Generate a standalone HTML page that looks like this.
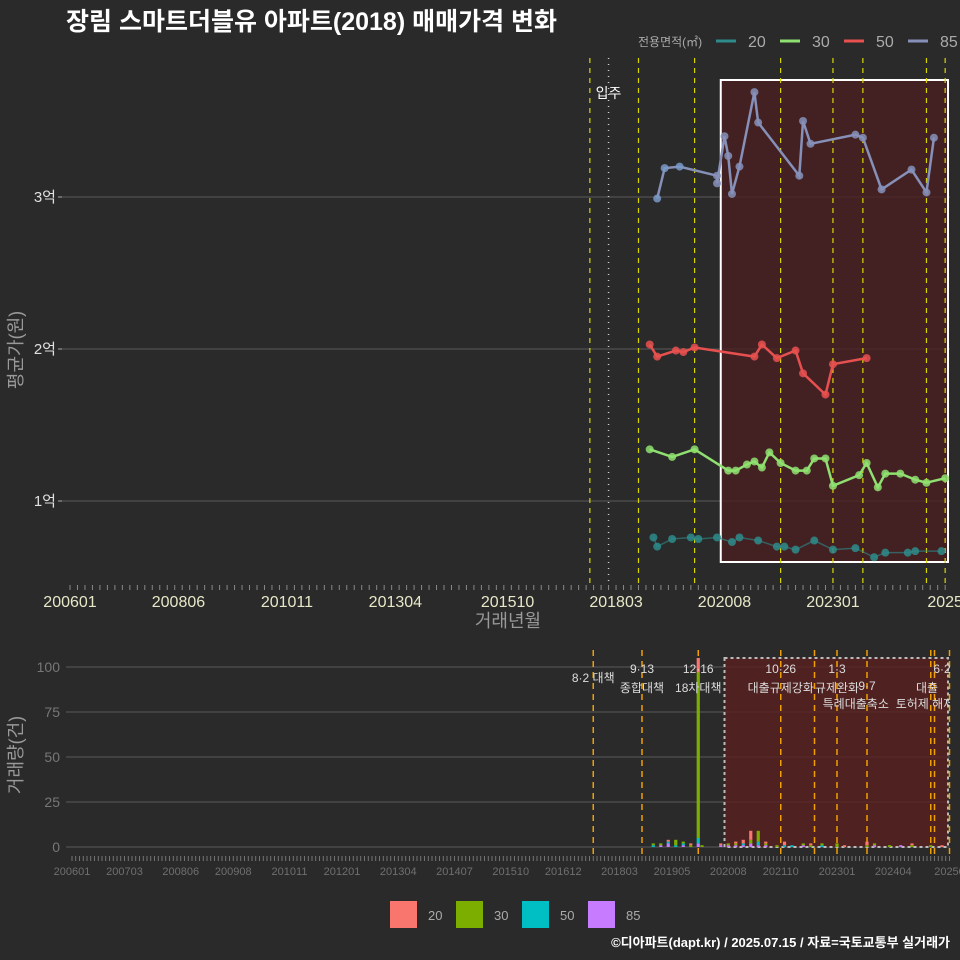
<!DOCTYPE html>
<html><head><meta charset="utf-8">
<style>
html,body{margin:0;padding:0;background:#2a2a2a;}
svg{display:block;font-family:"Liberation Sans","Noto Sans CJK KR",sans-serif;}
</style></head>
<body>
<svg id="c" width="960" height="960" viewBox="0 0 960 960" xmlns="http://www.w3.org/2000/svg">
<defs><clipPath id="annClip"><rect x="0" y="640" width="950" height="220"/></clipPath></defs>
<rect x="0" y="0" width="960" height="960" fill="#2a2a2a"/>
<text x="66" y="30" fill="#ffffff" font-size="25" font-weight="bold">장림 스마트더블유 아파트(2018) 매매가격 변화</text>
<g id="legendTop">
<text x="638" y="46" fill="#aaaaaa" font-size="12">전용면적(㎡)</text>
</g>
<g id="topPanel"></g>
<g id="botPanel"></g>
<g id="annPanel" clip-path="url(#annClip)"></g>
<text x="508" y="627" fill="#999" font-size="18" text-anchor="middle">거래년월</text>
<text transform="translate(22,350) rotate(-90)" fill="#999" font-size="18" text-anchor="middle">평균가(원)</text>
<text transform="translate(22,755) rotate(-90)" fill="#999" font-size="18" text-anchor="middle">거래량(건)</text>
<text x="950" y="947" fill="#ffffff" font-size="13" font-weight="bold" text-anchor="end">©디아파트(dapt.kr) / 2025.07.15 / 자료=국토교통부 실거래가</text>
</svg>
<script>
// ---- data ----
const sizes = ["20","30","50","85"];
const lineColors = ["#2e8b8b","#8fe070","#e85050","#8690b8"];
const barColors = ["#F8766D","#7CAE00","#00BFC4","#C77CFF"];
const d85 = ["201902","201904","201908","202006","202006","202008","202009","202010","202012","202104","202105","202204","202205","202207","202307","202309","202402","202410","202502","202504"];
const v85 = [2.99,3.19,3.20,3.14,3.09,3.40,3.27,3.02,3.20,3.69,3.49,3.14,3.50,3.35,3.41,3.39,3.05,3.18,3.03,3.39];
const d50 = ["201812","201902","201907","201909","201912","202104","202106","202110","202203","202205","202211","202301","202310"];
const v50 = [2.03,1.95,1.99,1.98,2.01,1.95,2.03,1.94,1.99,1.84,1.70,1.90,1.94];
const d30 = ["201812","201906","201912","202009","202011","202102","202104","202106","202108","202111","202203","202206","202208","202211","202301","202308","202310","202401","202403","202407","202411","202502","202507"];
const v30 = [1.34,1.29,1.34,1.20,1.20,1.24,1.26,1.22,1.32,1.25,1.20,1.20,1.28,1.28,1.10,1.17,1.25,1.09,1.18,1.18,1.14,1.12,1.15];
const d20 = ["201901","201902","201906","201911","202001","202006","202010","202012","202105","202110","202112","202203","202208","202301","202307","202312","202403","202409","202411","202506"];
const v20 = [0.76,0.70,0.75,0.76,0.75,0.76,0.73,0.76,0.74,0.70,0.70,0.68,0.74,0.68,0.69,0.63,0.66,0.66,0.67,0.67];
const topPolicyDates = ["201708","201809","201912","202111","202301","202309","202502","202507"];
const botPolicyDates = ["201708","201809","201912","202110","202207","202301","202309","202502","202503","202507"];
const moveInDate = "201801";
const topTicks = ["200601","200806","201011","201304","201510","201803","202008","202301","202507"];
const topTickLabels = ["200601","200806","201011","201304","201510","201803","202008","202301","2025"];
const priceTicks = [1,2,3];
const priceTickLabels = ["1억","2억","3억"];
const volMonths = ["201812","201902","201904","201906","201908","201910","201912","202001","202006","202008","202010","202012","202102","202104","202106","202109","202111","202201","202204","202206","202209","202301","202303","202309","202311","202403","202406","202409","202502","202505"];
const vol20 = [0,0,1,0,0,1,8,0,1,0,1,2,5,0,1,0,2,0,0,1,0,0,1,2,0,0,0,1,0,1];
const vol30 = [1,1,0,3,1,1,92,1,0,1,1,0,2,6,1,1,0,0,1,1,1,2,0,1,1,1,0,1,1,0];
const vol50 = [1,0,1,1,1,0,3,0,0,0,0,1,0,2,0,0,1,1,0,0,1,0,0,0,0,0,0,0,0,0];
const vol85 = [0,1,2,0,1,0,2,0,1,1,1,1,2,1,1,0,0,0,1,0,0,0,0,0,1,0,1,0,0,0];
const volTicks = [0,25,50,75,100];
const botTicks = ["200601","200703","200806","200908","201011","201201","201304","201407","201510","201612","201803","201905","202008","202110","202301","202404","202507"];
const botTickLabels = ["200601","200703","200806","200908","201011","201201","201304","201407","201510","201612","201803","201905","202008","202110","202301","202404","20250"];
const annTop = ["9·13","12·16","10·26","1·3","6·2"];
const annTopDates = ["201809","201912","202110","202301","202505"];
const annMid = ["종합대책","18차대책","대출규제강화","규제완화","대출"];
const annMidDates = ["201809","201912","202110","202301","202501"];
// ---- helpers ----
const NS="http://www.w3.org/2000/svg";
const svgRoot=document.getElementById('c');
function el(tag,attrs,parent){const e=document.createElementNS(NS,tag);for(const k in attrs)e.setAttribute(k,attrs[k]);(parent||svgRoot).appendChild(e);return e;}
function mIdx(s){return (parseInt(s.slice(0,4))-2006)*12+parseInt(s.slice(4,6))-1;}
const xT=s=>70+3.74*mIdx(s);
const yT=v=>501-152*(v-1);
const xB=s=>72+3.75*mIdx(s);
const yB=v=>847-1.8*v;
const topG=document.getElementById('topPanel'), botG=document.getElementById('botPanel'), annG=document.getElementById('annPanel');
// ---- top panel ----
priceTicks.forEach((v,i)=>{
  const g=el('line',{x1:60,x2:950,y1:yT(v),y2:yT(v),stroke:'#5a5a5a','stroke-width':1},topG);
  
  
  const t=el('text',{x:56,y:yT(v)+5,fill:'#e0e0e0','font-size':15,'text-anchor':'end'},topG);
  t.textContent=priceTickLabels[i];
  
  
  el('line',{x1:58,x2:62,y1:yT(v),y2:yT(v),stroke:'#aaa'},topG);
});
for(let m=0;m<=234;m+=2){el('line',{x1:70+3.74*m,x2:70+3.74*m,y1:585,y2:590,stroke:'#888','stroke-width':1},topG);}
topTicks.forEach((s,i)=>{
  const t=el('text',{x:xT(s),y:607,fill:'#e8e8c8','font-size':16,'text-anchor':'middle'},topG);
  t.textContent=topTickLabels[i];
  
  
});
const rect=el('rect',{x:xT("202007"),y:80,width:948-xT("202007"),height:482,fill:'#4a1f22','fill-opacity':0.8,stroke:'#ffffff','stroke-width':2},topG);


topPolicyDates.forEach(s=>{
  const l=el('line',{x1:xT(s),x2:xT(s),y1:58,y2:585,stroke:'#d8d800','stroke-width':1.2,'stroke-dasharray':'5,5'},topG);
  
  
});
const mi=el('line',{x1:xT(moveInDate),x2:xT(moveInDate),y1:58,y2:585,stroke:'#cccccc','stroke-width':1.5,'stroke-dasharray':'1,5'},topG);


const mt=el('text',{x:xT(moveInDate),y:98,fill:'#fff','font-size':14,'text-anchor':'middle'},topG);
mt.textContent='입주';


const series=[[d20,v20],[d30,v30],[d50,v50],[d85,v85]];
series.forEach(([d,v],si)=>{
  const pts=d.map((s,i)=>xT(s)+','+yT(v[i])).join(' ');
  const pl=el('polyline',{points:pts,fill:'none',stroke:lineColors[si],'stroke-width':si==0?1.5:2.5,'stroke-opacity':si==0?0.6:1},topG);
  
  
  d.forEach((s,i)=>{
    let col=lineColors[si];
    if(si==3 && mIdx(s)<mIdx("202006")) col='#7a9ac8';
    const c=el('circle',{cx:xT(s),cy:yT(v[i]),r:4,fill:col,'fill-opacity':0.85},topG);
    
    
  });
});
// top legend
const lg=document.getElementById('legendTop');
sizes.forEach((s,i)=>{
  const x0=716+i*64;
  const l=el('line',{x1:x0,x2:x0+20,y1:41,y2:41,stroke:lineColors[i],'stroke-width':3},lg);
  
  
  const t=el('text',{x:x0+32,y:47,fill:'#aaa','font-size':16},lg);
  t.textContent=s;
  
  
});
// ---- bottom panel ----
volTicks.forEach(v=>{
  const g=el('line',{x1:66,x2:950,y1:yB(v),y2:yB(v),stroke:'#5a5a5a'},botG);
  
  
  const t=el('text',{x:60,y:yB(v)+5,fill:'#777','font-size':14,'text-anchor':'end'},botG);
  t.textContent=v;
  
  
});
for(let m=0;m<=234;m++){el('line',{x1:72+3.75*m,x2:72+3.75*m,y1:856,y2:861,stroke:'#888','stroke-width':0.8},botG);}
botTicks.forEach((s,i)=>{
  const t=el('text',{x:xB(s),y:875,fill:'#6f6f6f','font-size':11,'text-anchor':'middle'},botG);
  t.textContent=botTickLabels[i];
  
  
});
const br=el('rect',{x:xB("202007"),y:658,width:948-xB("202007"),height:189,fill:'#5a1f1f','fill-opacity':0.8,stroke:'#bbbbbb','stroke-width':2,'stroke-dasharray':'3,3'},botG);


botPolicyDates.forEach(s=>{
  const l=el('line',{x1:xB(s),x2:xB(s),y1:650,y2:856,stroke:'#f0a000','stroke-width':1.5,'stroke-dasharray':'6,5'},botG);
  
  
});
const vols=[vol20,vol30,vol50,vol85];
volMonths.forEach((s,i)=>{
  let acc=0;
  [3,2,1,0].forEach(k=>{
    const v=vols[k][i]; if(!v) return;
    const r=el('rect',{x:xB(s)-1.6,y:yB(acc+v),width:3.2,height:1.8*v,fill:barColors[k]},botG);
    
    
    acc+=v;
  });
});
annTop.forEach((a,i)=>{
  const t=el('text',{x:xB(annTopDates[i]),y:673,fill:'#ddd','font-size':12,'text-anchor':'middle'},annG);
  t.textContent=a;
  
  
});
const t82=el('text',{x:xB("201708"),y:682,fill:'#ddd','font-size':12,'text-anchor':'middle'},annG);
t82.textContent='8·2 대책';


annMid.forEach((a,i)=>{
  const t=el('text',{x:xB(annMidDates[i]),y:692,fill:'#ddd','font-size':12,'text-anchor':'middle'},annG);
  t.textContent=a;
  
  
});
const t97=el('text',{x:xB("202309"),y:690,fill:'#ddd','font-size':12,'text-anchor':'middle'},annG);
t97.textContent='9·7';


const ts=el('text',{x:xB("202306"),y:708,fill:'#ddd','font-size':12,'text-anchor':'middle'},annG);
ts.textContent='특례대출축소';


const th=el('text',{x:xB("202501")-2,y:708,fill:'#ddd','font-size':12,'text-anchor':'middle'},annG);
th.textContent='토허제 해제';


// bottom legend
sizes.forEach((s,i)=>{
  const x0=390+i*66;
  const r=el('rect',{x:x0,y:901,width:27,height:27,fill:barColors[i]});
  
  
  const t=el('text',{x:x0+38,y:920,fill:'#aaa','font-size':13});
  t.textContent=s;
  
  
});
</script>
</body></html>
